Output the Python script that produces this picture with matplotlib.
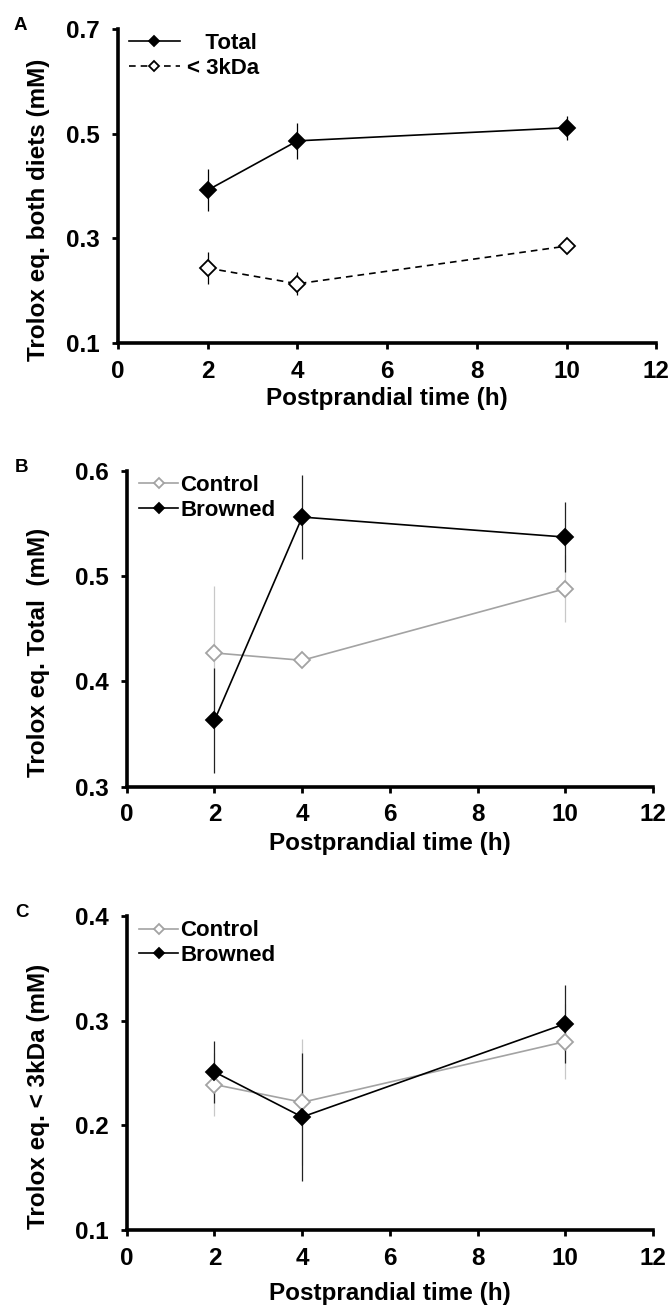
"""Trolox equivalents over postprandial time, three stacked panels."""

import matplotlib

matplotlib.use("Agg")

import matplotlib.pyplot as plt

plt.rcParams["font.family"] = ["Liberation Sans", "DejaVu Sans"]
plt.rcParams["font.weight"] = "bold"
plt.rcParams["axes.labelweight"] = "bold"

# postprandial sampling times (h)
times = [2, 4, 10]

# panel A: both diets pooled
total_mean = [0.392, 0.486, 0.511]
total_sd = [0.040, 0.035, 0.023]
small_mean = [0.243, 0.213, 0.285]
small_sd = [0.031, 0.022, 0.014]

# panel B: total fraction by diet
b_control_mean = [0.427, 0.420, 0.488]
b_control_sd = [0.064, 0.0, 0.032]
b_browned_mean = [0.363, 0.556, 0.537]
b_browned_sd = [0.050, 0.040, 0.033]

# panel C: < 3kDa fraction by diet
c_control_mean = [0.239, 0.222, 0.280]
c_control_sd = [0.030, 0.060, 0.036]
c_browned_mean = [0.251, 0.208, 0.297]
c_browned_sd = [0.030, 0.061, 0.037]

x_ticks = [0, 2, 4, 6, 8, 10, 12]

GREY = "#a3a3a3"


def style_axis(axis, ylim, yticks, ylabel, letter, label_x, letter_x, xlabelpad):
    axis.set_xlim(0, 12)
    axis.set_ylim(*ylim)
    axis.set_xticks(x_ticks)
    axis.set_yticks(yticks)
    axis.set_yticklabels([f"{t:.1f}" for t in yticks])
    for side in ("top", "right"):
        axis.spines[side].set_visible(False)
    for side in ("left", "bottom"):
        axis.spines[side].set_linewidth(2.6)
    axis.tick_params(axis="both", direction="out", width=2.0, length=4, labelsize=17.5)
    axis.tick_params(axis="y", pad=9)
    axis.tick_params(axis="x", pad=8)
    axis.set_xlabel("Postprandial time (h)", fontsize=17.5, labelpad=xlabelpad)
    axis.set_ylabel(ylabel, fontsize=17.5)
    axis.yaxis.set_label_coords(label_x, 0.425)
    axis.text(letter_x, 1.01, letter, transform=axis.transAxes, fontsize=13.5,
              va="center", ha="center")


def series(axis, means, sds, color, face, ecolor, linestyle, label):
    axis.errorbar(times, means, yerr=sds, fmt="none", ecolor=ecolor, elinewidth=0.9,
                  capsize=0, zorder=2)
    axis.plot(times, means, color=color, linestyle=linestyle, linewidth=1.2,
              marker="D", markersize=8, markerfacecolor=face,
              markeredgecolor=color, markeredgewidth=1.3, label=label, zorder=3)


def legend(axis, x0, handlelength, textpad):
    axis.legend(loc="upper left", bbox_to_anchor=(x0, 0.986), frameon=False,
                handlelength=handlelength, handletextpad=textpad, markerscale=0.65,
                labelspacing=0.16, borderpad=0.0, borderaxespad=0.0,
                prop={"size": 16, "weight": "bold"})


fig = plt.figure(figsize=(6.71, 13.09), dpi=100)

ax_a = fig.add_axes([0.176, 0.738, 0.802, 0.240])
series(ax_a, total_mean, total_sd, "black", "black", "black", "-", "   Total")
series(ax_a, small_mean, small_sd, "black", "white", "black", (0, (4, 3)), "< 3kDa")
style_axis(ax_a, (0.1, 0.7), [0.1, 0.3, 0.5, 0.7], "Trolox eq. both diets (mM)", "A",
           -0.126, -0.182, 3)
legend(ax_a, 0.02, 2.3, 0.3)

ax_b = fig.add_axes([0.189, 0.399, 0.784, 0.2414])
series(ax_b, b_control_mean, b_control_sd, GREY, "white", "#c8c8c8", "-", "Control")
series(ax_b, b_browned_mean, b_browned_sd, "black", "black", "#222222", "-", "Browned")
style_axis(ax_b, (0.3, 0.6), [0.3, 0.4, 0.5, 0.6], "Trolox eq. Total  (mM)", "B",
           -0.146, -0.2, 4)
legend(ax_b, 0.024, 1.75, 0.1)

ax_c = fig.add_axes([0.189, 0.0603, 0.784, 0.240])
series(ax_c, c_control_mean, c_control_sd, GREY, "white", "#c8c8c8", "-", "Control")
series(ax_c, c_browned_mean, c_browned_sd, "black", "black", "#222222", "-", "Browned")
style_axis(ax_c, (0.1, 0.4), [0.1, 0.2, 0.3, 0.4], "Trolox eq. < 3kDa (mM)", "C",
           -0.146, -0.2, 9)
legend(ax_c, 0.024, 1.75, 0.1)

fig.savefig("out.png", dpi=100)
